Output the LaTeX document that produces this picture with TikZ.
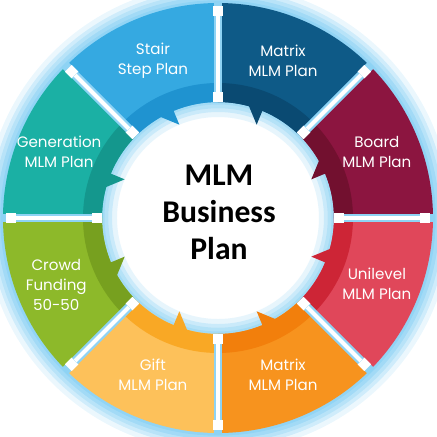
\documentclass[tikz,border=0pt]{standalone}
\usepackage{fontspec}
\newfontfamily\planfont{Poppins}
\newfontfamily\hubfont{Carlito}
\definecolor{glowc}{HTML}{5EC0F0}
\definecolor{boardc}{HTML}{8C1540}
\definecolor{boardd}{HTML}{72102F}
\definecolor{matbc}{HTML}{0E5A87}
\definecolor{matbd}{HTML}{0A4A72}
\definecolor{stairc}{HTML}{35A9E1}
\definecolor{staird}{HTML}{1F93D0}
\definecolor{genc}{HTML}{1BB0A4}
\definecolor{gend}{HTML}{14978D}
\definecolor{crowdc}{HTML}{8DB92A}
\definecolor{crowdd}{HTML}{77A01F}
\definecolor{giftc}{HTML}{FDC15A}
\definecolor{giftd}{HTML}{F9A825}
\definecolor{matoc}{HTML}{F7931E}
\definecolor{matod}{HTML}{F27F0C}
\definecolor{unic}{HTML}{E0475A}
\definecolor{unid}{HTML}{CD2536}

\begin{document}
\begin{tikzpicture}[x=0.02cm, y=0.02cm]
\tikzset{tab/.style={fill=white, minimum size=0.19cm, inner sep=0pt},
  bar/.style={draw=white, line width=0.08cm},
  barglow/.style={draw=glowc!70, line width=0.17cm, shorten <=-0.2cm, shorten >=-0.3cm},
  plan/.style={text=white, align=center, font=\planfont\fontsize{8.6}{11.5}\selectfont},
  hub/.style={align=center, font=\hubfont\bfseries\fontsize{18}{21}\selectfont}}
\useasboundingbox (-218,-219) rectangle (219,218);
% glow round the ring
\draw[glowc, opacity=0.25, line width=0.15cm] (0,0) circle (214);
\draw[glowc, opacity=0.25, line width=0.3cm] (0,0) circle (214);
\draw[glowc, opacity=0.2, line width=0.45cm] (0,0) circle (214);
\draw[glowc, opacity=0.2, line width=0.6cm] (0,0) circle (214);
\draw[glowc, opacity=0.12, line width=0.8cm] (0,0) circle (214);
% white hub and its glow
\fill[white] (0,0) circle (116);
\draw[glowc, opacity=0.2, line width=0.1cm] (0,0) circle (116);
\draw[glowc, opacity=0.2, line width=0.25cm] (0,0) circle (116);
\draw[glowc, opacity=0.2, line width=0.4cm] (0,0) circle (116);
\draw[glowc, opacity=0.15, line width=0.6cm] (0,0) circle (116);
% segments
\fill[boardc] (0:116) -- (0:215) arc[start angle=0, end angle=45, radius=215] -- (45:116) arc[start angle=45, end angle=0, radius=116] -- cycle;
\fill[matbc] (45:116) -- (45:215) arc[start angle=45, end angle=90, radius=215] -- (90:116) arc[start angle=90, end angle=45, radius=116] -- cycle;
\fill[stairc] (90:116) -- (90:215) arc[start angle=90, end angle=135, radius=215] -- (135:116) arc[start angle=135, end angle=90, radius=116] -- cycle;
\fill[genc] (135:116) -- (135:215) arc[start angle=135, end angle=180, radius=215] -- (180:116) arc[start angle=180, end angle=135, radius=116] -- cycle;
\fill[crowdc] (180:116) -- (180:215) arc[start angle=180, end angle=225, radius=215] -- (225:116) arc[start angle=225, end angle=180, radius=116] -- cycle;
\fill[giftc] (225:116) -- (225:215) arc[start angle=225, end angle=270, radius=215] -- (270:116) arc[start angle=270, end angle=225, radius=116] -- cycle;
\fill[matoc] (270:116) -- (270:215) arc[start angle=270, end angle=315, radius=215] -- (315:116) arc[start angle=315, end angle=270, radius=116] -- cycle;
\fill[unic] (315:116) -- (315:215) arc[start angle=315, end angle=360, radius=215] -- (360:116) arc[start angle=360, end angle=315, radius=116] -- cycle;
% inner bands with their teeth
\fill[boardd] (0:135) arc[start angle=0, end angle=45, radius=135] -- (45:116) arc[start angle=45, end angle=29.5, radius=116] -- (22.5:101) -- (22.5:116) arc[start angle=22.5, end angle=0, radius=116] -- cycle;
\fill[matbd] (45:135) arc[start angle=45, end angle=90, radius=135] -- (90:116) arc[start angle=90, end angle=74.5, radius=116] -- (67.5:101) -- (67.5:116) arc[start angle=67.5, end angle=45, radius=116] -- cycle;
\fill[staird] (90:135) arc[start angle=90, end angle=135, radius=135] -- (135:116) arc[start angle=135, end angle=119.5, radius=116] -- (112.5:101) -- (112.5:116) arc[start angle=112.5, end angle=90, radius=116] -- cycle;
\fill[gend] (135:135) arc[start angle=135, end angle=180, radius=135] -- (180:116) arc[start angle=180, end angle=164.5, radius=116] -- (157.5:101) -- (157.5:116) arc[start angle=157.5, end angle=135, radius=116] -- cycle;
\fill[crowdd] (180:135) arc[start angle=180, end angle=225, radius=135] -- (225:116) arc[start angle=225, end angle=209.5, radius=116] -- (202.5:101) -- (202.5:116) arc[start angle=202.5, end angle=180, radius=116] -- cycle;
\fill[giftd] (225:135) arc[start angle=225, end angle=270, radius=135] -- (270:116) arc[start angle=270, end angle=254.5, radius=116] -- (247.5:101) -- (247.5:116) arc[start angle=247.5, end angle=225, radius=116] -- cycle;
\fill[matod] (270:135) arc[start angle=270, end angle=315, radius=135] -- (315:116) arc[start angle=315, end angle=299.5, radius=116] -- (292.5:101) -- (292.5:116) arc[start angle=292.5, end angle=270, radius=116] -- cycle;
\fill[unid] (315:135) arc[start angle=315, end angle=360, radius=135] -- (360:116) arc[start angle=360, end angle=344.5, radius=116] -- (337.5:101) -- (337.5:116) arc[start angle=337.5, end angle=315, radius=116] -- cycle;
% tabs at the ends of each gap
\node[tab, rotate=0] (I1) at (0:121) {};
\node[tab, rotate=45] (I2) at (45:121) {};
\node[tab, rotate=90] (I3) at (90:121) {};
\node[tab, rotate=135] (I4) at (135:121) {};
\node[tab, rotate=180] (I5) at (180:121) {};
\node[tab, rotate=225] (I6) at (225:121) {};
\node[tab, rotate=270] (I7) at (270:121) {};
\node[tab, rotate=315] (I8) at (315:121) {};
\node[tab, rotate=0] (O1) at (0:207) {};
\node[tab, rotate=45] (O2) at (45:207) {};
\node[tab, rotate=90] (O3) at (90:207) {};
\node[tab, rotate=135] (O4) at (135:207) {};
\node[tab, rotate=180] (O5) at (180:207) {};
\node[tab, rotate=225] (O6) at (225:207) {};
\node[tab, rotate=270] (O7) at (270:207) {};
\node[tab, rotate=315] (O8) at (315:207) {};
% gaps
\draw[barglow] (I1) -- (O1);
\draw[barglow] (I2) -- (O2);
\draw[barglow] (I3) -- (O3);
\draw[barglow] (I4) -- (O4);
\draw[barglow] (I5) -- (O5);
\draw[barglow] (I6) -- (O6);
\draw[barglow] (I7) -- (O7);
\draw[barglow] (I8) -- (O8);
\draw[bar] (I1) -- (O1);
\draw[bar] (I2) -- (O2);
\draw[bar] (I3) -- (O3);
\draw[bar] (I4) -- (O4);
\draw[bar] (I5) -- (O5);
\draw[bar] (I6) -- (O6);
\draw[bar] (I7) -- (O7);
\draw[bar] (I8) -- (O8);
\node[tab, rotate=0] at (I1) {};
\node[tab, rotate=45] at (I2) {};
\node[tab, rotate=90] at (I3) {};
\node[tab, rotate=135] at (I4) {};
\node[tab, rotate=180] at (I5) {};
\node[tab, rotate=225] at (I6) {};
\node[tab, rotate=270] at (I7) {};
\node[tab, rotate=315] at (I8) {};
\node[tab, rotate=0] at (O1) {};
\node[tab, rotate=45] at (O2) {};
\node[tab, rotate=90] at (O3) {};
\node[tab, rotate=135] at (O4) {};
\node[tab, rotate=180] at (O5) {};
\node[tab, rotate=225] at (O6) {};
\node[tab, rotate=270] at (O7) {};
\node[tab, rotate=315] at (O8) {};
% labels
\node[plan] (board) at (22.5:172) {Board\\MLM Plan};
\node[plan] (matrixb) at (67.5:170) {Matrix\\MLM Plan};
\node[plan] (stair) at (112.5:170) {Stair\\Step Plan};
\node[plan] (gen) at (157.5:172) {Generation\\MLM Plan};
\node[plan] (crowd) at (202.5:175) {Crowd\\Funding\\50-50};
\node[plan] (gift) at (247.5:170) {Gift\\MLM Plan};
\node[plan] (matrixo) at (292.5:170) {Matrix\\MLM Plan};
\node[plan] (uni) at (337.5:172) {Unilevel\\MLM Plan};
\node[hub] (hub) at (1,6) {MLM\\Business\\Plan};
\end{tikzpicture}
\end{document}
